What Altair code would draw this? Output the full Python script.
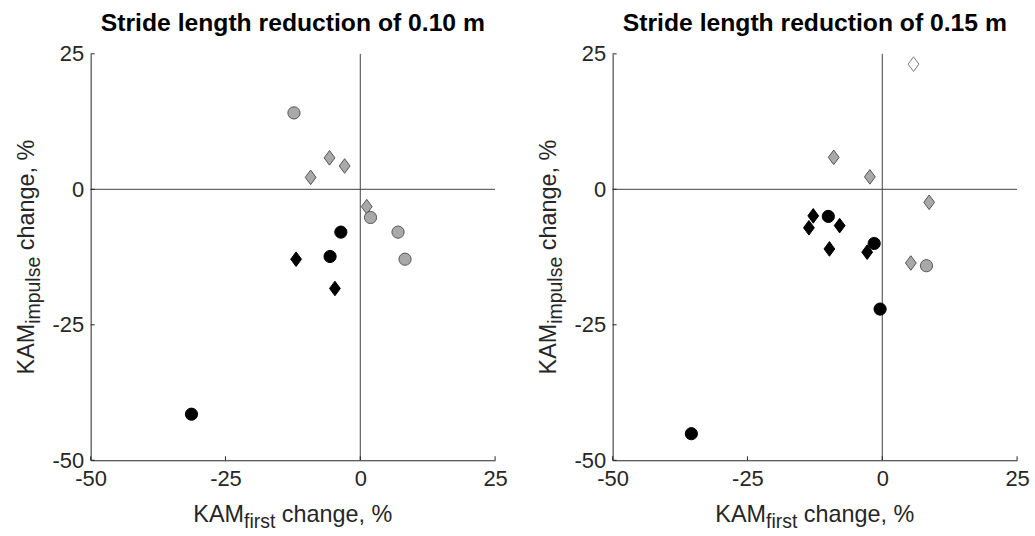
import altair as alt
import pandas as pd

# ---------------- data ----------------
tick_values = [-50, -25, 0, 25]

titles = ["Stride length reduction of 0.10 m", "Stride length reduction of 0.15 m"]

# Panel A: stride length reduction of 0.10 m
a_x = [-12.3, -5.7, -2.9, -9.2, 1.2, 1.9, 7.0, 8.3, -3.6, -5.6, -11.9, -4.7, -31.3]
a_y = [14.1, 5.8, 4.3, 2.2, -3.2, -5.2, -7.9, -12.9, -7.9, -12.4, -12.9, -18.3, -41.5]
a_shape = ["circle", "diamond", "diamond", "diamond", "diamond", "circle", "circle", "circle",
           "circle", "circle", "diamond", "diamond", "circle"]
a_group = ["gray", "gray", "gray", "gray", "gray", "gray", "gray", "gray",
           "black", "black", "black", "black", "black"]

# Panel B: stride length reduction of 0.15 m
b_x = [5.8, -9.0, -2.3, 8.7, 5.3, 8.2, -12.8, -13.6, -10.0, -7.9, -9.8, -1.5, -2.8, -0.4, -35.4]
b_y = [23.1, 5.9, 2.3, -2.4, -13.6, -14.1, -4.9, -7.1, -5.0, -6.7, -11.0, -10.0, -11.6, -22.1, -45.1]
b_shape = ["diamond", "diamond", "diamond", "diamond", "diamond", "circle", "diamond", "diamond",
           "circle", "diamond", "diamond", "circle", "diamond", "circle", "circle"]
b_group = ["white", "gray", "gray", "gray", "gray", "gray", "black", "black",
           "black", "black", "black", "black", "black", "black", "black"]

# ---------------- style ----------------
W, H = 406, 408
FONT = "Liberation Sans"
AXIS_COLOR = "#262626"
DIAMOND = "M0,-1L0.74,0L0,1L-0.74,0Z"
MAIN_FS, SUB_FS = 23.5, 19.5

ARIAL = {"K": 667, "A": 667, "M": 833, "f": 278, "i": 222, "r": 333, "s": 500, "t": 278,
         "m": 833, "p": 556, "u": 556, "l": 222, "e": 556, " ": 278, "c": 500, "h": 556,
         "a": 556, "n": 556, "g": 556, ",": 278, "%": 889}


def text_width(s, fs):
    return sum(ARIAL.get(ch, 556) for ch in s) * fs / 1000.0


one_row = pd.DataFrame({"k": [0]})


def axis_title_layers(sub, horizontal):
    w1 = text_width("KAM", MAIN_FS)
    w2 = text_width(sub, SUB_FS)
    wsp = text_width(" ", MAIN_FS)
    w3 = text_width("change, %", MAIN_FS)
    total = w1 + w2 + wsp + w3
    base = alt.Chart(one_row)
    layers = []
    if horizontal:
        x0 = W / 2 - total / 2
        yb = H + 62
        spec = [("KAM", x0, yb, MAIN_FS), (sub, x0 + w1, yb + 6, SUB_FS),
                ("change, %", x0 + w1 + w2 + wsp, yb, MAIN_FS)]
        for txt, xx, yy, fs in spec:
            layers.append(base.mark_text(align="left", baseline="alphabetic", font=FONT,
                                         fontSize=fs, color=AXIS_COLOR).encode(
                x=alt.value(xx), y=alt.value(yy), text=alt.value(txt)))
    else:
        y0 = H / 2 + total / 2
        xb = -57
        spec = [("KAM", xb, y0, MAIN_FS), (sub, xb + 6, y0 - w1, SUB_FS),
                ("change, %", xb, y0 - w1 - w2 - wsp, MAIN_FS)]
        for txt, xx, yy, fs in spec:
            layers.append(base.mark_text(align="left", baseline="alphabetic", font=FONT,
                                         fontSize=fs, color=AXIS_COLOR, angle=270).encode(
                x=alt.value(xx), y=alt.value(yy), text=alt.value(txt)))
    return layers


def panel(title, xs, ys, shapes, groups):
    df = pd.DataFrame({"x": xs, "y": ys, "shape": shapes, "group": groups})
    ticks_df = pd.DataFrame({"t": tick_values})
    xsc = alt.Scale(domain=[-50, 25], nice=False, zero=False)
    ysc = alt.Scale(domain=[-50, 25], nice=False, zero=False)
    common = dict(values=tick_values, title=None, ticks=False, grid=False,
                  labelFontSize=22, labelFont=FONT, labelColor=AXIS_COLOR,
                  domainColor=AXIS_COLOR, labelExpr="'' + datum.value",
                  labelFlush=False, labelOverlap=False)
    xaxis = alt.Axis(labelPadding=8, **common)
    yaxis = alt.Axis(labelPadding=7, **common)

    fill = alt.Fill("group:N", legend=None,
                    scale=alt.Scale(domain=["black", "gray", "white"],
                                    range=["#000000", "#a9a9a9", "#ffffff"]))
    stroke = alt.Stroke("group:N", legend=None,
                        scale=alt.Scale(domain=["black", "gray", "white"],
                                        range=["#000000", "#555555", "#777777"]))

    zero_v = alt.Chart(one_row).mark_rule(color="#404040", strokeWidth=1).encode(
        x=alt.datum(0, scale=xsc, axis=xaxis))
    zero_h = alt.Chart(one_row).mark_rule(color="#404040", strokeWidth=1).encode(
        y=alt.datum(0, scale=ysc, axis=yaxis))
    xt = alt.Chart(ticks_df).mark_rule(color=AXIS_COLOR, strokeWidth=1).encode(
        x=alt.X("t:Q", scale=xsc, axis=xaxis), y=alt.value(H), y2=alt.value(H - 4))
    yt = alt.Chart(ticks_df).mark_rule(color=AXIS_COLOR, strokeWidth=1).encode(
        y=alt.Y("t:Q", scale=ysc, axis=yaxis), x=alt.value(0), x2=alt.value(4))

    base = alt.Chart(df)
    diamonds = base.transform_filter(alt.datum.shape == "diamond").mark_point(
        filled=True, opacity=1, strokeWidth=1, shape=DIAMOND, size=215).encode(
        x=alt.X("x:Q", scale=xsc, axis=xaxis), y=alt.Y("y:Q", scale=ysc, axis=yaxis),
        fill=fill, stroke=stroke)
    circles = base.transform_filter(alt.datum.shape == "circle").mark_point(
        filled=True, opacity=1, strokeWidth=1, shape="circle", size=150).encode(
        x=alt.X("x:Q", scale=xsc, axis=xaxis), y=alt.Y("y:Q", scale=ysc, axis=yaxis),
        fill=fill, stroke=stroke)

    layers = [zero_v, zero_h, xt, yt, diamonds, circles]
    layers += axis_title_layers("first", True)
    layers += axis_title_layers("impulse", False)
    return alt.layer(*layers).properties(
        width=W, height=H,
        title=alt.TitleParams(title, font=FONT, fontSize=24.8, fontWeight="bold",
                              color="#000000", anchor="middle", offset=7))


left = panel(titles[0], a_x, a_y, a_shape, a_group)
right = panel(titles[1], b_x, b_y, b_shape, b_group)

chart = alt.hconcat(left, right, spacing=118, bounds="flush").configure_view(
    stroke=None).configure_axis(
    domainColor=AXIS_COLOR, domainWidth=1, labelColor=AXIS_COLOR, labelFont=FONT,
    labelFontSize=22).properties(
    padding={"left": 15, "top": 10, "right": 5, "bottom": 5}, background="white")

chart.save("out.html", embed_options={"renderer": "svg", "actions": False})
